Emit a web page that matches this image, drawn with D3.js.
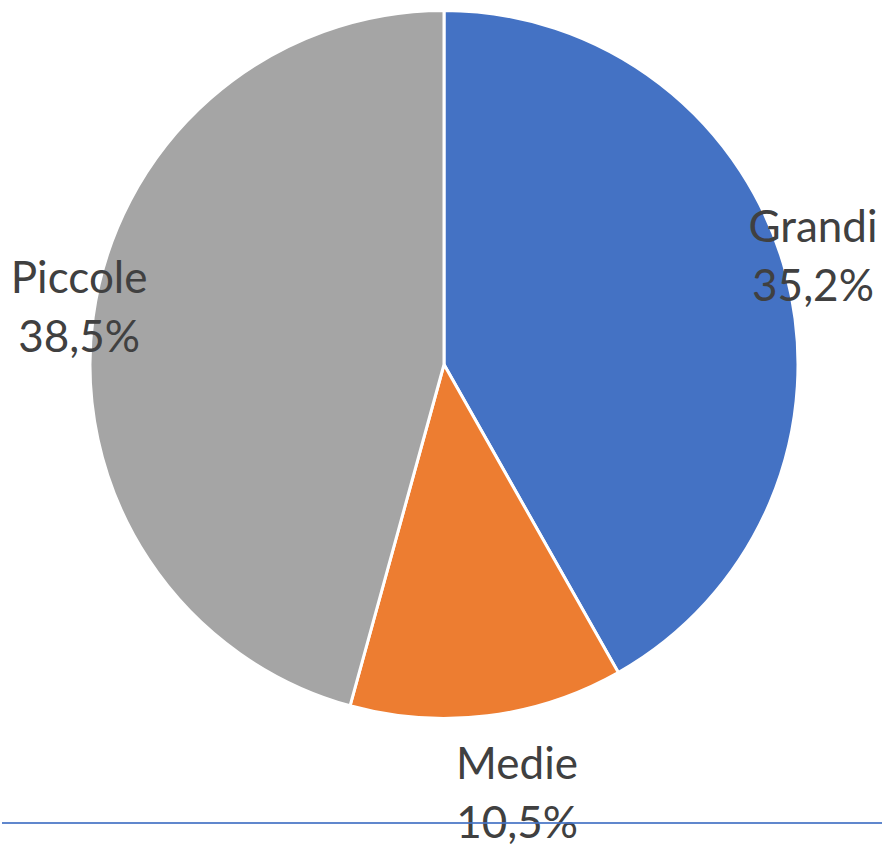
<!DOCTYPE html>
<html>
<head>
<meta charset="utf-8">
<script src="https://cdn.jsdelivr.net/npm/d3@7"></script>
<style>
  html, body { margin: 0; padding: 0; background: #fff; }
  svg { display: block; }
</style>
</head>
<body>
<svg id="chart" width="882" height="848"></svg>
<script>
// Quota per dimensione d'impresa
const categories = ["Grandi", "Medie", "Piccole"];
const values = [35.2, 10.5, 38.5];
const valueLabels = ["35,2%", "10,5%", "38,5%"];
const colors = ["#4472C4", "#ED7D31", "#A5A5A5"];

const width = 882, height = 848;
const cx = 444, cy = 364.5, radius = 354;

const svg = d3.select("#chart");

const pie = d3.pie().sort(null).value(d => d.value);
const arcs = pie(categories.map((c, i) => ({ name: c, value: values[i], label: valueLabels[i], color: colors[i] })));

const arc = d3.arc().innerRadius(0).outerRadius(radius);

const g = svg.append("g").attr("transform", `translate(${cx},${cy})`);

g.selectAll("path.slice")
  .data(arcs)
  .join("path")
  .attr("class", "slice")
  .attr("d", arc)
  .attr("fill", d => d.data.color)
  .attr("stroke", "#fff")
  .attr("stroke-width", 3)
  .attr("stroke-linejoin", "round");

// Label placement: radius factor along the slice bisector plus a small nudge
const labelLayout = {
  "Grandi":  { r: 1.075, dx: 1,  dy: -12 },
  "Medie":   { r: 1.22,  dx: 20, dy: 0 },
  "Piccole": { r: 1.04,  dx: 0,  dy: -9 }
};

const lineGap = 59;
const fontSize = 44;

arcs.forEach(d => {
  const mid = (d.startAngle + d.endAngle) / 2;
  const lay = labelLayout[d.data.name];
  const x = Math.sin(mid) * radius * lay.r + lay.dx;
  const y = -Math.cos(mid) * radius * lay.r + lay.dy;
  const t = g.append("text")
    .attr("x", x)
    .attr("y", y)
    .attr("text-anchor", "middle")
    .attr("font-family", "Lato, 'Open Sans', sans-serif")
    .attr("font-size", fontSize)
    .attr("fill", "#404040");
  t.append("tspan").attr("x", x).attr("dy", -lineGap / 2 + fontSize * 0.36).text(d.data.name);
  t.append("tspan").attr("x", x).attr("dy", lineGap).text(d.data.label);
});

// Bottom rule
svg.append("line")
  .attr("x1", 2).attr("x2", width)
  .attr("y1", 823).attr("y2", 823)
  .attr("stroke", "#4472C4")
  .attr("stroke-width", 2)
  .attr("stroke-opacity", 0.85);
</script>
</body>
</html>
